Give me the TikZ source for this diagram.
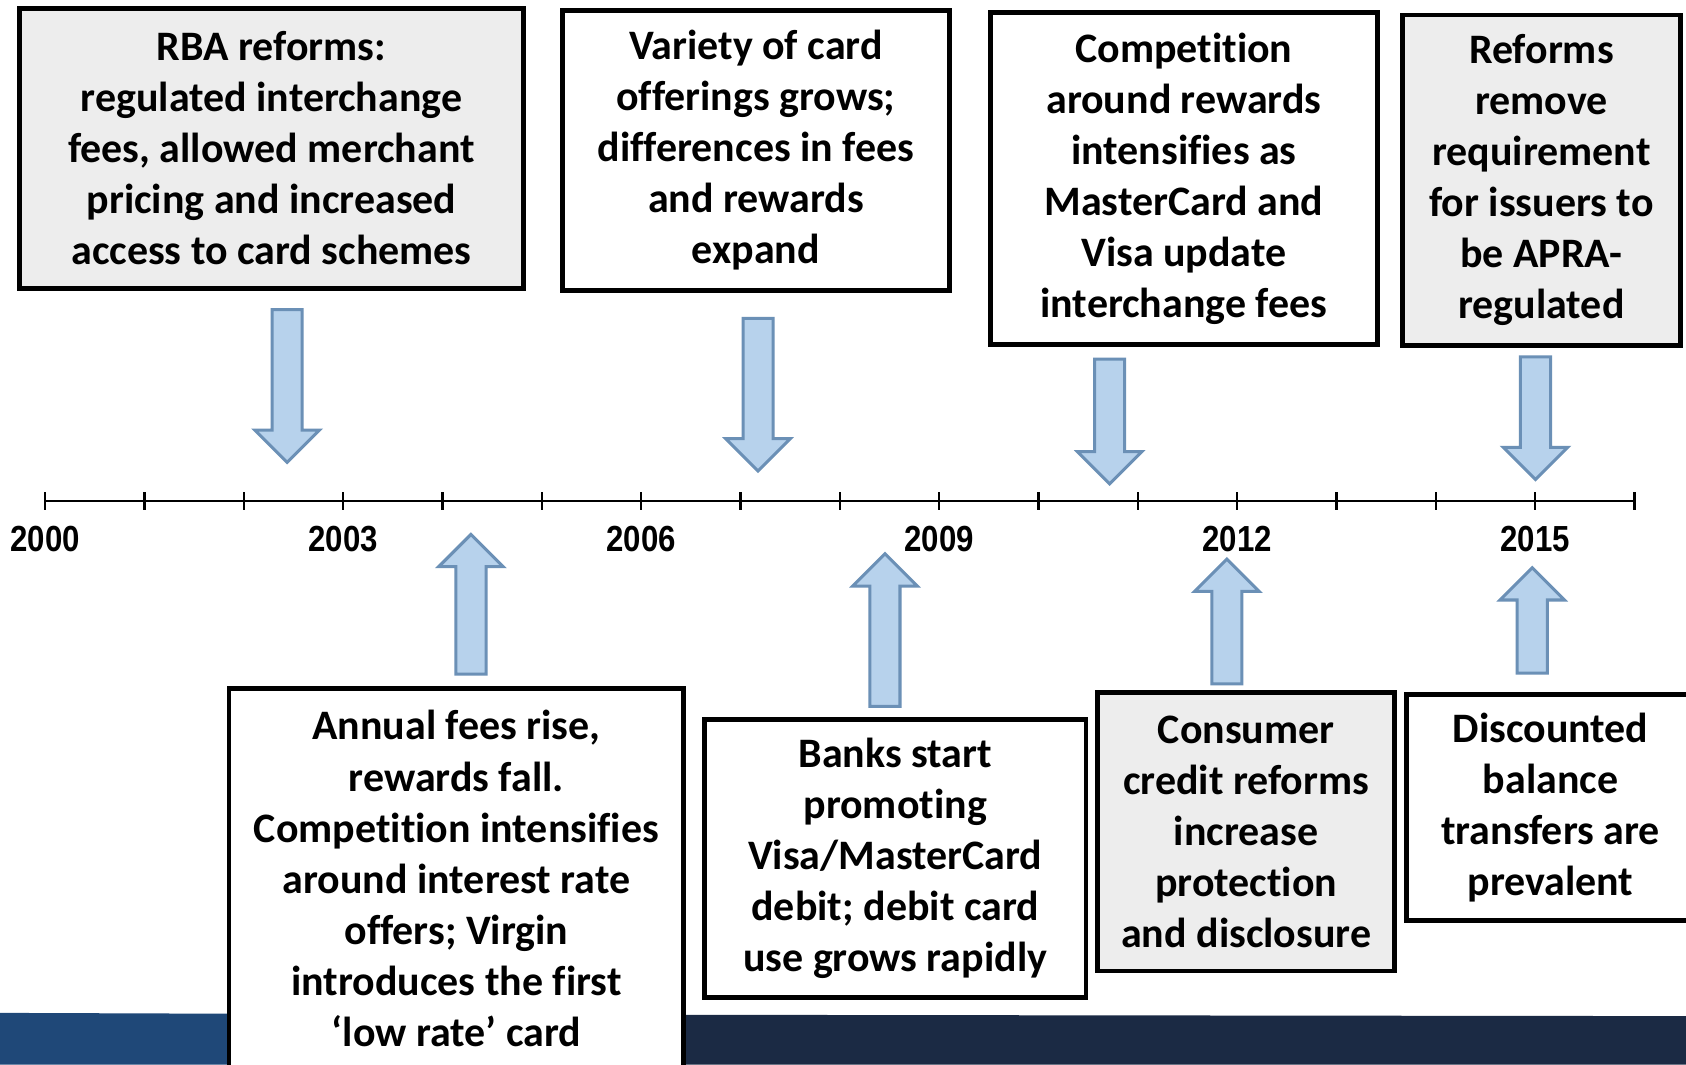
\documentclass[tikz,border=0pt]{standalone}
\usepackage{fontspec}
\setmainfont{Carlito}[Ligatures=NoCommon]
\newfontfamily\yearfont{Liberation Sans}[FakeStretch=0.86]

\definecolor{boxgray}{HTML}{EDEDED}
\definecolor{arrowfill}{HTML}{B7D2EC}
\definecolor{arrowline}{HTML}{6B90B6}
\definecolor{bandblue}{HTML}{1F4878}
\definecolor{bandnavy}{HTML}{1B2A44}

\tikzset{
    event/.style={draw, line width=1.3pt, align=center, inner sep=0pt,
        font=\bfseries\fontsize{11.1}{13.5}\selectfont},
    year/.style={font=\yearfont\bfseries\fontsize{9.6}{11}\selectfont},
    blockarrow/.style={draw=arrowline, fill=arrowfill, line width=0.8pt},
}

\begin{document}
\begin{tikzpicture}
        \useasboundingbox (0,0) rectangle (15.68,9.90);
        \clip (0,0) rectangle (15.68,9.90);
        \fill[white] (0,0) rectangle (15.68,9.90);
        % Balken unten
        \fill[bandnavy] (4.2,0) -- (4.2,0.465) -- (15.68,0.45) -- (15.68,0) -- cycle;
        \fill[bandblue] (0,0) -- (0,0.48) -- (4.2,0.465) -- (4.2,0) -- cycle;
        % Zeitachse mit Jahren
        \draw[line width=0.6pt] (0.42,5.24) -- (15.20,5.24);
        \foreach \i in {0,...,16}
            \draw[line width=0.6pt] (0.42+0.92375*\i,5.16) -- (0.42+0.92375*\i,5.32);
        \foreach \i/\j in {0/2000,3/2003,6/2006,9/2009,12/2012,15/2015}
            \node[year] (y\j) at (0.42+0.92375*\i,4.89) {\j};
        % Kaesten oben
        \node[event, fill=boxgray, minimum width=4.69cm, minimum height=2.60cm]
            (rba) at (2.525,8.52)
            {RBA reforms:\\regulated interchange\\fees, allowed merchant\\pricing and increased\\access to card schemes};
        \node[event, fill=white, minimum width=3.60cm, minimum height=2.60cm]
            (variety) at (7.03,8.50)
            {Variety of card\\offerings grows;\\differences in fees\\and rewards\\expand};
        \node[event, fill=white, minimum width=3.60cm, minimum height=3.08cm]
            (rewards) at (11.01,8.24)
            {Competition\\around rewards\\intensifies as\\MasterCard and\\Visa update\\interchange fees};
        \node[event, fill=boxgray, minimum width=2.59cm, minimum height=3.07cm]
            (apra) at (14.335,8.225)
            {Reforms\\remove\\requirement\\for issuers to\\be APRA-\\regulated};
        % Kaesten unten
        \node[event, fill=white, minimum width=4.23cm, minimum height=3.54cm]
            (annual) at (4.245,1.73)
            {Annual fees rise,\\rewards fall.\\Competition intensifies\\around interest rate\\offers; Virgin\\introduces the first\\‘low rate’ card};
        \node[event, fill=white, minimum width=3.55cm, minimum height=2.59cm]
            (debit) at (8.325,1.915)
            {Banks start\\promoting\\Visa/MasterCard\\debit; debit card\\use grows rapidly};
        \node[event, fill=boxgray, minimum width=2.76cm, minimum height=2.59cm]
            (credit) at (11.59,2.165)
            {Consumer\\credit reforms\\increase\\protection\\and disclosure};
        \node[event, fill=white, minimum width=2.68cm, minimum height=2.10cm]
            (transfers) at (14.42,2.39)
            {Discounted\\balance\\transfers are\\prevalent};
        % Pfeile nach unten
        \foreach \x/\a/\b in {2.67/7.02/5.60, 7.05/6.94/5.52, 10.32/6.56/5.40, 14.28/6.58/5.44}
            \draw[blockarrow] (\x-0.14,\a) -- (\x-0.14,\b+0.3) -- (\x-0.3,\b+0.3) -- (\x,\b)
                -- (\x+0.3,\b+0.3) -- (\x+0.14,\b+0.3) -- (\x+0.14,\a) -- cycle;
        % Pfeile nach oben
        \foreach \x/\a/\b in {4.38/3.63/4.93, 8.23/3.33/4.75, 11.41/3.54/4.70, 14.25/3.64/4.62}
            \draw[blockarrow] (\x-0.14,\a) -- (\x-0.14,\b-0.3) -- (\x-0.3,\b-0.3) -- (\x,\b)
                -- (\x+0.3,\b-0.3) -- (\x+0.14,\b-0.3) -- (\x+0.14,\a) -- cycle;
\end{tikzpicture}
\end{document}
